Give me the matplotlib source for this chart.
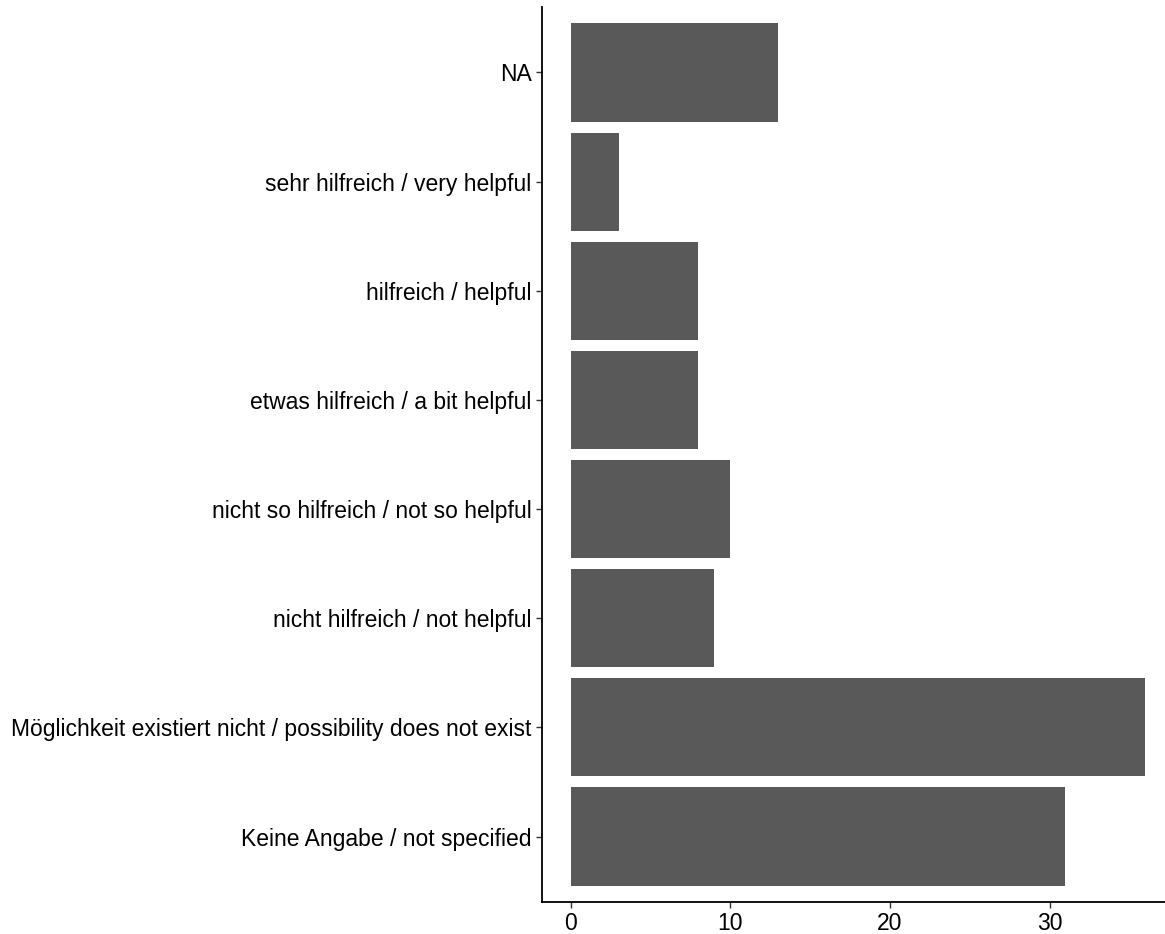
import matplotlib

matplotlib.use("Agg")
import matplotlib.pyplot as plt  # noqa: E402

categories = [
    "Keine Angabe / not specified",
    "Möglichkeit existiert nicht / possibility does not exist",
    "nicht hilfreich / not helpful",
    "nicht so hilfreich / not so helpful",
    "etwas hilfreich / a bit helpful",
    "hilfreich / helpful",
    "sehr hilfreich / very helpful",
    "NA",
]
counts = [31, 36, 9, 10, 8, 8, 3, 13]
xticks = [0, 10, 20, 30]

BAR = "#595959"
W, H = 1165, 934

plt.rcParams["font.family"] = ["Liberation Sans", "DejaVu Sans"]
fig = plt.figure(figsize=(W / 100, H / 100), dpi=100)
# panel in pixels: left 542, right 1174, top 7, bottom 902
ax = fig.add_axes([542 / W, (H - 902) / H, (1174 - 542) / W, (902 - 7) / H])

pos = list(range(1, len(categories) + 1))
ax.barh(pos, counts, height=0.9, color=BAR)
ax.set_xlim(-1.8, 37.8)
ax.set_ylim(0.4, len(categories) + 0.6)
ax.set_yticks(pos)
ax.set_yticklabels(categories)
ax.set_xticks(xticks)

for s in ["top", "right"]:
    ax.spines[s].set_visible(False)
for s in ["left", "bottom"]:
    ax.spines[s].set_linewidth(1.3)
    ax.spines[s].set_color("black")
ax.tick_params(axis="both", length=4.5, width=1.0, color="#333333",
               labelsize=16.5, labelcolor="black", pad=3)

fig.savefig("out.png", dpi=100)
